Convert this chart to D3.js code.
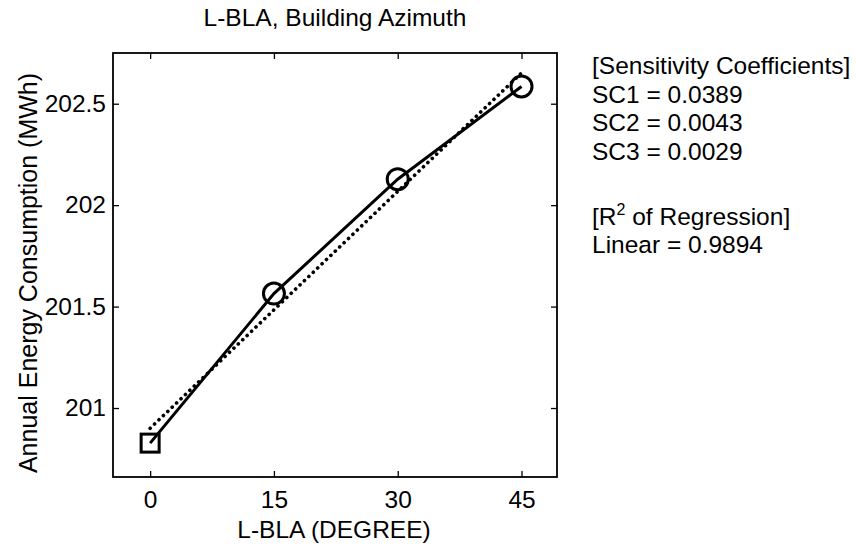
<!DOCTYPE html>
<html>
<head>
<meta charset="utf-8">
<script src="https://cdn.jsdelivr.net/npm/d3@7"></script>
<style>
  html, body { margin: 0; padding: 0; background: #fff; }
  svg { display: block; font-family: "Liberation Sans", Arial, Helvetica, sans-serif; }
</style>
</head>
<body>
<svg id="chart" width="856" height="547"></svg>
<script>
// L-BLA building azimuth sensitivity: annual energy use vs. azimuth angle
const azimuths = [0, 15, 30, 45];
const energy = [200.827, 201.564, 202.128, 202.585];
const xTicks = [0, 15, 30, 45];
const yTicks = [201, 201.5, 202, 202.5];
const yTickLabels = ["201", "201.5", "202", "202.5"];
const sensitivityLines = ["[Sensitivity Coefficients]", "SC1 = 0.0389", "SC2 = 0.0043", "SC3 = 0.0029"];
const rSquared = "0.9894";

const svg = d3.select("#chart");
const m = { left: 113, top: 53, right: 557, bottom: 477 };
const fs = 24.5;

const x = d3.scaleLinear().domain([-4.5, 49.3]).range([m.left, m.right]);
const y = d3.scaleLinear().domain([200.66, 202.75]).range([m.bottom, m.top]);

// least-squares linear fit of the series
const mx = d3.mean(azimuths), my = d3.mean(energy);
const slope = d3.sum(azimuths, (v, i) => (v - mx) * (energy[i] - my)) /
              d3.sum(azimuths, v => (v - mx) * (v - mx));
const intercept = my - slope * mx;
const fit = [azimuths[0], azimuths[azimuths.length - 1]].map(a => [a, intercept + slope * a]);

// axes: inward ticks on all four sides
const tickLen = 6;
const axB = svg.append("g").attr("transform", `translate(0,${m.bottom})`)
  .call(d3.axisBottom(x).tickValues(xTicks).tickSizeInner(-tickLen).tickSizeOuter(0).tickPadding(14));
const axT = svg.append("g").attr("transform", `translate(0,${m.top})`)
  .call(d3.axisTop(x).tickValues(xTicks).tickSizeInner(-tickLen).tickSizeOuter(0).tickFormat(""));
const axL = svg.append("g").attr("transform", `translate(${m.left},0)`)
  .call(d3.axisLeft(y).tickValues(yTicks).tickSizeInner(-tickLen).tickSizeOuter(0).tickPadding(7)
    .tickFormat((d, i) => yTickLabels[i]));
const axR = svg.append("g").attr("transform", `translate(${m.right},0)`)
  .call(d3.axisRight(y).tickValues(yTicks).tickSizeInner(-tickLen).tickSizeOuter(0).tickFormat(""));

[axB, axT, axL, axR].forEach(g => {
  g.select(".domain").remove();
  g.selectAll(".tick line").attr("stroke", "#000").attr("stroke-width", 1.3);
  g.selectAll(".tick text").attr("fill", "#000").attr("font-size", fs)
    .attr("font-family", "'Liberation Sans', Arial, sans-serif");
});

// frame
svg.append("rect")
  .attr("x", m.left).attr("y", m.top)
  .attr("width", m.right - m.left).attr("height", m.bottom - m.top)
  .attr("fill", "none").attr("stroke", "#000").attr("stroke-width", 1.8);

// regression line (dotted)
svg.append("path")
  .datum(fit)
  .attr("d", d3.line().x(d => x(d[0])).y(d => y(d[1])))
  .attr("fill", "none").attr("stroke", "#000").attr("stroke-width", 3.6)
  .attr("stroke-dasharray", "0.1,6").attr("stroke-linecap", "round");

// data line
const pts = azimuths.map((a, i) => [a, energy[i]]);
svg.append("path")
  .datum(pts)
  .attr("d", d3.line().x(d => x(d[0])).y(d => y(d[1])))
  .attr("fill", "none").attr("stroke", "#000").attr("stroke-width", 3);

// base case as a square, others as circles
svg.append("rect")
  .attr("x", x(pts[0][0]) - 9).attr("y", y(pts[0][1]) - 9)
  .attr("width", 18).attr("height", 18)
  .attr("fill", "none").attr("stroke", "#000").attr("stroke-width", 3);
svg.selectAll("circle.pt").data(pts.slice(1)).enter().append("circle")
  .attr("class", "pt")
  .attr("cx", d => x(d[0])).attr("cy", d => y(d[1])).attr("r", 10.5)
  .attr("fill", "none").attr("stroke", "#000").attr("stroke-width", 3);

// titles
svg.append("text").attr("x", (m.left + m.right) / 2).attr("y", 26)
  .attr("text-anchor", "middle").attr("font-size", fs).text("L-BLA, Building Azimuth");
svg.append("text").attr("x", 334).attr("y", 538)
  .attr("text-anchor", "middle").attr("font-size", fs).text("L-BLA (DEGREE)");
svg.append("text")
  .attr("transform", "translate(37,273) rotate(-90)")
  .attr("text-anchor", "middle").attr("font-size", 25).text("Annual Energy Consumption (MWh)");

// annotation block
const ann = svg.append("g").attr("font-size", fs);
const baselines = [74, 102.5, 131, 159.5];
sensitivityLines.forEach((t, i) => {
  ann.append("text").attr("x", 592).attr("y", baselines[i]).text(t);
});
const r2 = ann.append("text").attr("x", 592).attr("y", 225);
r2.append("tspan").text("[R");
r2.append("tspan").attr("font-size", 16).attr("dy", -10).text("2");
r2.append("tspan").attr("dy", 10).text(" of Regression]");
ann.append("text").attr("x", 592).attr("y", 253).text("Linear = " + rSquared);
</script>
</body>
</html>
